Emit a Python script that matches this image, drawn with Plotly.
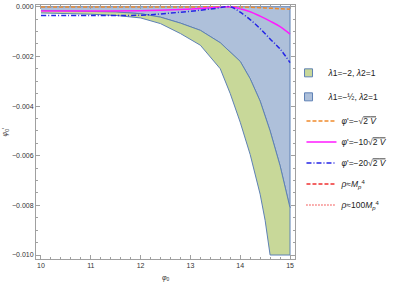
import plotly.graph_objects as go

# ---- data ----
# lower boundary of the blue region / upper boundary of the green region
phi_u = [10, 10.5, 11, 11.5, 12, 12.4, 12.8, 13.2, 13.6, 14.0, 14.2, 14.4, 14.6, 14.8, 15.0]
upper_green = [-0.00015, -0.00016, -0.00018, -0.00021, -0.00028, -0.00042, -0.00066, -0.00095,
               -0.00145, -0.00220, -0.00290, -0.00380, -0.00500, -0.00640, -0.00810]
blue_top = [0, 0, 0, 0, 0, 0, 0, 0, 0, 0, 0, 0, 0, 0, 0]

# lower boundary of the green region
phi_l = [10, 10.5, 11, 11.5, 12, 12.4, 12.8, 13.2, 13.6, 13.8, 14.0, 14.2, 14.4, 14.5, 14.6, 15.0]
lower_green = [-0.00025, -0.00027, -0.00030, -0.00035, -0.00045, -0.00068, -0.00108, -0.00155,
               -0.00250, -0.00350, -0.00465, -0.00595, -0.00755, -0.00860, -0.01000, -0.01000]

# curves
phi_c = [10, 11, 12, 12.4, 12.8, 13.2, 13.5, 13.8, 14.0, 14.2, 14.4, 14.6, 14.8, 15.0]
orange_c = [-0.00001, -0.00001, -0.00001, -0.00001, -0.00001, -0.000005, 0, 0,
            -0.00001, -0.00002, -0.00004, -0.00006, -0.00008, -0.0001]
magenta_c = [-0.00017, -0.00017, -0.00016, -0.00014, -0.00011, -0.00007, -0.00003, 0,
             -0.00008, -0.0002, -0.00038, -0.00058, -0.0008, -0.0011]
blue_c = [-0.00035, -0.00035, -0.00034, -0.00029, -0.00022, -0.00014, -0.00007, 0,
          -0.00022, -0.00052, -0.00088, -0.0013, -0.0017, -0.00225]

x_ticks = [10, 11, 12, 13, 14, 15]
y_ticks = [0, -0.002, -0.004, -0.006, -0.008, -0.010]

EDGE = "#5E81B5"
GREEN = "#c8d899"
BLUE = "#aec0da"
ORANGE = "#ef8b2c"
MAGENTA = "#ff1aff"
DBLUE = "#2424e6"
RED = "#f03030"
SQRT2V = "√<span style='text-decoration:overline'>2 <i>V</i></span>"

fig = go.Figure()

# blue region
fig.add_trace(go.Scatter(
    x=phi_u + phi_u[::-1], y=upper_green + blue_top[::-1],
    fill="toself", fillcolor=BLUE, mode="lines",
    line=dict(color=EDGE, width=1), showlegend=False, hoverinfo="skip"))
# green region
fig.add_trace(go.Scatter(
    x=phi_u + phi_l[::-1], y=upper_green + lower_green[::-1],
    fill="toself", fillcolor=GREEN, mode="lines",
    line=dict(color=EDGE, width=1), showlegend=False, hoverinfo="skip"))

# curves
fig.add_trace(go.Scatter(x=phi_c, y=orange_c, mode="lines", line_shape="spline",
                         line=dict(color=ORANGE, width=1.5, dash="4px,2px"),
                         name="<i>φ</i>'=−" + SQRT2V, legendgroup="c1", legendrank=3))
fig.add_trace(go.Scatter(x=phi_c, y=magenta_c, mode="lines", line_shape="spline",
                         line=dict(color=MAGENTA, width=1.5),
                         name="<i>φ</i>'=−10" + SQRT2V, legendgroup="c2", legendrank=4))
fig.add_trace(go.Scatter(x=phi_c, y=blue_c, mode="lines", line_shape="spline",
                         line=dict(color=DBLUE, width=1.5, dash="5px,2px,1px,2px"),
                         name="<i>φ</i>'=−20" + SQRT2V, legendgroup="c3", legendrank=5))

# legend entries
fig.add_trace(go.Scatter(x=[None], y=[None], mode="markers", legend="legend2",
                         marker=dict(symbol="square", size=8, color=GREEN, line=dict(color=EDGE, width=1)),
                         name="<i>λ</i>1=−2, <i>λ</i>2=1", legendgroup="s1", legendrank=1))
fig.add_trace(go.Scatter(x=[None], y=[None], mode="markers", legend="legend2",
                         marker=dict(symbol="square", size=8, color=BLUE, line=dict(color=EDGE, width=1)),
                         name="<i>λ</i>1=−½, <i>λ</i>2=1", legendgroup="s2", legendrank=2))
fig.add_trace(go.Scatter(x=[None], y=[None], mode="lines",
                         line=dict(color=RED, width=1.5, dash="4px,2px"),
                         name="<i>ρ</i>≈<i>M</i><sub><i>p</i></sub><sup>4</sup>", legendgroup="c4", legendrank=6))
fig.add_trace(go.Scatter(x=[None], y=[None], mode="lines",
                         line=dict(color=RED, width=1.5, dash="1px,2px"),
                         name="<i>ρ</i>≈100<i>M</i><sub><i>p</i></sub><sup>4</sup>", legendgroup="c5", legendrank=7))

axis_common = dict(showline=True, mirror="allticks", linecolor="#a0a0a0", linewidth=1,
                   ticks="inside", tickcolor="#a0a0a0", ticklen=4, tickwidth=1,
                   showgrid=False, zeroline=False, automargin=True,
                   tickfont=dict(family="Liberation Sans, Arial", size=7, color="#333"))

fig.update_xaxes(range=[9.9, 15.1], tickvals=x_ticks, ticktext=[str(v) for v in x_ticks],
                 minor=dict(dtick=0.2, ticks="inside", ticklen=2, tickcolor="#a0a0a0"),
                 **axis_common)
fig.update_yaxes(range=[-0.01016, 0.00007], tickvals=y_ticks, tickformat=".3f",
                 minor=dict(dtick=0.0005, ticks="inside", ticklen=2, tickcolor="#a0a0a0"),
                 title=dict(text="<i>φ</i><sub>0</sub>'", font=dict(size=7, color="#333"), standoff=3),
                 **axis_common)

# x-axis title, placed as in the reference (below the tick labels)
fig.add_annotation(text="<i>φ</i><sub>0</sub>", xref="paper", yref="paper",
                   x=0.5, y=-0.075, xanchor="center", yanchor="middle", showarrow=False,
                   font=dict(family="Liberation Sans, Arial", size=7, color="#333"))

legend_font = dict(family="Liberation Sans, Arial", size=8.5, color="#222")
fig.update_layout(
    width=395, height=284,
    margin=dict(l=36, r=100, t=5, b=25, autoexpand=False),
    plot_bgcolor="white", paper_bgcolor="white",
    legend=dict(x=1.025, y=0.60, xanchor="left", yanchor="top", font=legend_font,
                traceorder="grouped", tracegroupgap=2, itemwidth=30,
                bgcolor="rgba(0,0,0,0)"),
    legend2=dict(x=0.975, y=0.79, xanchor="left", yanchor="top", font=legend_font,
                 traceorder="grouped", tracegroupgap=5, itemwidth=30,
                 bgcolor="rgba(0,0,0,0)"),
)

fig.write_html("out.html", config={"displayModeBar": False},
               post_script="document.body.style.margin='0px';")
